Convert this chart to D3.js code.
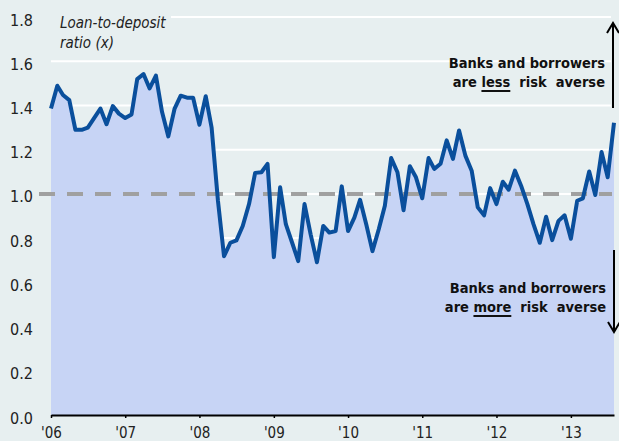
<!DOCTYPE html>
<html>
<head>
<meta charset="utf-8">
<script src="https://cdnjs.cloudflare.com/ajax/libs/d3/7.8.5/d3.min.js"></script>
<style>
  body { margin: 0; background: #e7eff0; }
  text { font-family: "Liberation Sans Narrow", "DejaVu Sans Condensed", sans-serif; }
</style>
</head>
<body>
<div id="chart"></div>
<script>
// loan-to-deposit ratio, monthly from Jan 2006 to Aug 2013
var firstMonth = new Date(2006, 0, 1);
var lastMonth = new Date(2013, 7, 1);
var ratio = [
    1.386, 1.489, 1.447, 1.424, 1.29, 1.29, 1.30, 1.343, 1.386, 1.315,
    1.397, 1.363, 1.343, 1.359, 1.519, 1.542, 1.477, 1.535, 1.371, 1.26,
    1.386, 1.444, 1.435, 1.435, 1.313, 1.442, 1.30, 0.97, 0.718, 0.779,
    0.79, 0.855, 0.954, 1.095, 1.098, 1.136, 0.714, 1.03, 0.863, 0.779,
    0.696, 0.954, 0.817, 0.691, 0.855, 0.825, 0.832, 1.034, 0.832, 0.893,
    0.973, 0.86, 0.741, 0.84, 0.946, 1.162, 1.098, 0.926, 1.125, 1.075,
    0.98, 1.162, 1.113, 1.136, 1.242, 1.158, 1.287, 1.173, 1.105, 0.939,
    0.903, 1.026, 0.954, 1.055, 1.019, 1.105, 1.037, 0.954, 0.863, 0.779,
    0.897, 0.791, 0.878, 0.903, 0.797, 0.969, 0.98, 1.101, 0.995, 1.189,
    1.075, 1.322
];
var yTicks = [0, 0.2, 0.4, 0.6, 0.8, 1.0, 1.2, 1.4, 1.6, 1.8];
var xTickYears = [2006, 2007, 2008, 2009, 2010, 2011, 2012, 2013];
var neutralLevel = 1.0;
var titleLines = ["Loan-to-deposit", "ratio (x)"];
var upperNote = ["Banks and borrowers", "are ", "less", "  risk  averse"];
var lowerNote = ["Banks and borrowers", "are ", "more", "  risk  averse"];

var data = ratio.map(function (v, i) {
    return { date: d3.timeMonth.offset(firstMonth, i), value: v };
});

// set the dimensions and margins of the graph
var margin = { top: 17, right: 5, bottom: 26, left: 51 },
    width = 619 - margin.left - margin.right,
    height = 441 - margin.top - margin.bottom;

var svg = d3.select("#chart")
    .append("svg")
    .attr("width", 619)
    .attr("height", 441)
    .append("g")
    .attr("transform", "translate(" + margin.left + "," + margin.top + ")");

var x = d3.scaleTime()
    .domain([firstMonth, lastMonth])
    .range([0, width]);

var y = d3.scaleLinear()
    .domain([0, 1.8])
    .range([height, 0]);

// white grid lines behind everything
svg.selectAll("line.grid")
    .data(yTicks.filter(function (d) { return d > 0; }))
    .enter()
    .append("line")
    .attr("class", "grid")
    .attr("x1", 0)
    .attr("x2", width - 3)
    .attr("y1", function (d) { return y(d); })
    .attr("y2", function (d) { return y(d); })
    .attr("stroke", "#ffffff")
    .attr("stroke-width", 2);

// box behind the title hides the top grid line
svg.append("rect")
    .attr("x", 0)
    .attr("y", -8)
    .attr("width", 120)
    .attr("height", 40)
    .attr("fill", "#e7eff0");

var title = svg.append("text")
    .attr("x", 9)
    .attr("y", 11)
    .style("font-style", "italic")
    .style("font-size", "15px")
    .attr("fill", "#222");
title.selectAll("tspan")
    .data(titleLines)
    .enter()
    .append("tspan")
    .attr("x", 9)
    .attr("dy", function (d, i) { return i == 0 ? 0 : 20; })
    .text(function (d) { return d; });

// shaded area and line
var area = d3.area()
    .x(function (d) { return x(d.date); })
    .y0(height)
    .y1(function (d) { return y(d.value); });

svg.append("path")
    .datum(data)
    .attr("d", area)
    .attr("fill", "#c7d4f5");

// dashed line at 1.0
svg.append("line")
    .attr("x1", -12)
    .attr("x2", width - 2)
    .attr("y1", y(neutralLevel))
    .attr("y2", y(neutralLevel))
    .attr("stroke", "#a0a0a0")
    .attr("stroke-width", 4)
    .attr("stroke-dasharray", "16,12");

var line = d3.line()
    .x(function (d) { return x(d.date); })
    .y(function (d) { return y(d.value); });

svg.append("path")
    .datum(data)
    .attr("d", line)
    .attr("fill", "none")
    .attr("stroke", "#0a4f9c")
    .attr("stroke-width", 4)
    .attr("stroke-linejoin", "round");

// X axis
var xAxis = svg.append("g")
    .attr("transform", "translate(0," + height + ")")
    .call(d3.axisBottom(x)
        .tickValues(xTickYears.map(function (yr) { return new Date(yr, 0, 1); }))
        .tickFormat(d3.timeFormat("'%y"))
        .tickSize(3)
        .tickSizeOuter(0)
        .tickPadding(9));
xAxis.select(".domain").attr("stroke", "#000").attr("stroke-width", 2);
xAxis.selectAll(".tick line").attr("stroke", "#000").attr("stroke-width", 1.5);
xAxis.selectAll("text")
    .style("font-size", "15px")
    .style("font-family", null)
    .attr("fill", "#222");

// Y axis, labels only
var yAxis = svg.append("g")
    .call(d3.axisLeft(y)
        .tickValues(yTicks)
        .tickFormat(d3.format(".1f"))
        .tickSize(0)
        .tickPadding(18));
yAxis.select(".domain").remove();
yAxis.selectAll("text")
    .style("font-size", "16px")
    .style("font-family", null)
    .attr("dy", "0.5em")
    .attr("fill", "#222");

// annotation text, right aligned, with underlined keyword
function addNote(parts, right, base) {
    svg.append("text")
        .attr("x", right)
        .attr("y", base)
        .attr("text-anchor", "end")
        .style("font-weight", "bold")
        .style("font-size", "14.5px")
        .attr("fill", "#111")
        .text(parts[0]);

    var t = svg.append("text")
        .attr("x", right)
        .attr("y", base + 19)
        .attr("text-anchor", "end")
        .attr("xml:space", "preserve")
        .style("font-weight", "bold")
        .style("font-size", "14.5px")
        .attr("fill", "#111")
        .text(parts[1] + parts[2] + parts[3]);

    var node = t.node();
    var total = node.getComputedTextLength();
    var start = right - total + node.getSubStringLength(0, parts[1].length);
    var len = node.getSubStringLength(parts[1].length, parts[2].length);
    svg.append("line")
        .attr("x1", start)
        .attr("x2", start + len)
        .attr("y1", base + 23)
        .attr("y2", base + 23)
        .attr("stroke", "#111")
        .attr("stroke-width", 2);
}

addNote(upperNote, 554, 51);
addNote(lowerNote, 555, 276);

// arrows on the right edge
function addArrow(xPos, from, to) {
    var dir = to < from ? 1 : -1;
    svg.append("line")
        .attr("x1", xPos).attr("x2", xPos)
        .attr("y1", from).attr("y2", to)
        .attr("stroke", "#000")
        .attr("stroke-width", 2);
    svg.append("path")
        .attr("d", "M" + (xPos - 6) + "," + (to + dir * 10) +
            "L" + xPos + "," + to +
            "L" + (xPos + 6) + "," + (to + dir * 10))
        .attr("fill", "none")
        .attr("stroke", "#000")
        .attr("stroke-width", 2);
}

addArrow(562, 91, 6);
addArrow(563, 233, 315);
</script>
</body>
</html>
